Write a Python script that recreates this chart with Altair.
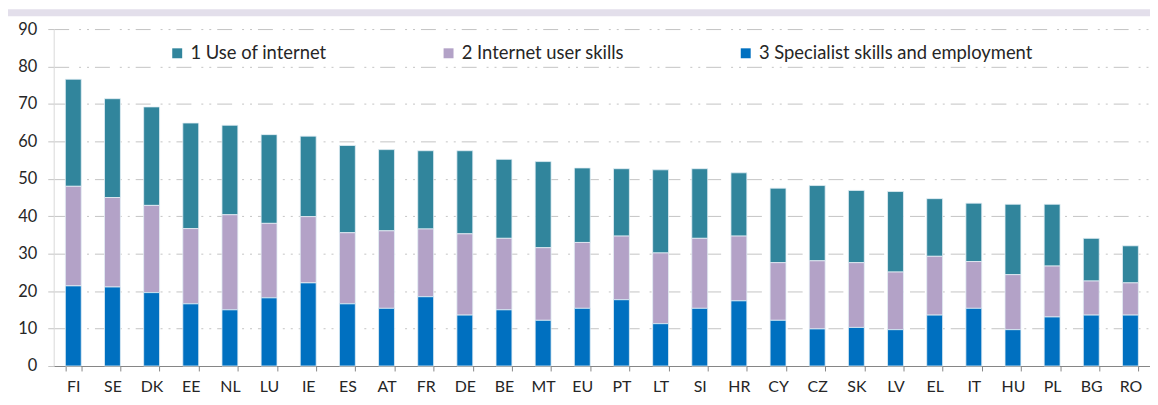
import altair as alt
import pandas as pd

countries = ["FI", "SE", "DK", "EE", "NL", "LU", "IE", "ES", "AT", "FR", "DE", "BE", "MT", "EU",
             "PT", "LT", "SI", "HR", "CY", "CZ", "SK", "LV", "EL", "IT", "HU", "PL", "BG", "RO"]

use_internet = [28.6, 26.4, 26.3, 28.2, 23.9, 23.7, 21.5, 23.3, 21.7, 20.9, 22.2, 21.1, 23.0, 19.9,
                18.0, 22.2, 18.6, 16.9, 19.9, 20.1, 19.3, 21.5, 15.4, 15.6, 18.8, 16.5, 11.4, 9.9]
user_skills = [26.6, 23.9, 23.3, 20.1, 25.4, 19.9, 17.7, 19.0, 20.7, 18.1, 21.7, 19.1, 19.4, 17.6,
               17.0, 18.9, 18.7, 17.3, 15.4, 18.2, 17.3, 15.4, 15.7, 12.5, 14.7, 13.6, 9.1, 8.6]
specialist = [21.4, 21.1, 19.6, 16.6, 15.0, 18.2, 22.2, 16.6, 15.4, 18.5, 13.6, 15.0, 12.2, 15.4,
              17.7, 11.3, 15.4, 17.4, 12.2, 9.9, 10.3, 9.7, 13.6, 15.4, 9.7, 13.1, 13.6, 13.6]

series = ["1 Use of internet", "2 Internet user skills", "3 Specialist skills and employment"]
colors = ["#31859C", "#B3A2C7", "#0070C0"]
y_ticks = [0, 10, 20, 30, 40, 50, 60, 70, 80, 90]

rows = []
for i, c in enumerate(countries):
    for s, vals, o in zip(series, [use_internet, user_skills, specialist], [3, 2, 1]):
        rows.append({"country": c, "series": s, "value": vals[i], "ord": o})
df = pd.DataFrame(rows)

FONT = "Lato"
TXT = "#262626"

bars = alt.Chart(df).mark_bar(stroke="#E3EEF5", strokeWidth=0.8).encode(
    x=alt.X(
        "country:N", sort=countries,
        scale=alt.Scale(paddingInner=0.594, paddingOuter=0.297),
        axis=alt.Axis(
            title=None, labelAngle=0, tickBand="extent", grid=False,
            domainColor="#868686", domainWidth=1.2, tickColor="#868686", tickSize=5,
            labelPadding=8, labelFont=FONT, labelFontSize=16, labelColor=TXT,
        ),
    ),
    y=alt.Y(
        "value:Q", stack="zero",
        scale=alt.Scale(domain=[0, 90], nice=False),
        axis=alt.Axis(
            title=None, values=y_ticks, grid=True, gridColor="#C4C4C4", gridWidth=1,
            gridDash=[15, 10, 2, 6, 2, 6], domainColor="#D9D9D9", tickColor="#C4C4C4",
            tickSize=6, labelPadding=11, labelFont=FONT, labelFontSize=16.5, labelColor=TXT,
        ),
    ),
    color=alt.Color(
        "series:N",
        scale=alt.Scale(domain=series, range=colors),
        legend=alt.Legend(
            title=None, orient="none", legendX=115, legendY=15, direction="horizontal",
            columns=3, columnPadding=113, symbolType="square", symbolSize=100,
            symbolStrokeWidth=0, labelFont=FONT, labelFontSize=18.5, labelColor=TXT,
            labelOffset=4, labelLimit=500,
        ),
    ),
    order=alt.Order("ord:Q", sort="ascending"),
)

band = alt.Chart(pd.DataFrame({"a": [0]})).mark_rect(color="#E3DFEB").encode(
    x=alt.value(-46), x2=alt.value(1110), y=alt.value(-20), y2=alt.value(-13)
)

chart = alt.layer(band, bars).properties(
    width=1103, height=339,
    autosize=alt.AutoSizeParams(type="none"),
    padding={"left": 46, "top": 20, "right": 0, "bottom": 30},
    background="white",
).configure_view(stroke=None)

chart.save("out.html", embed_options={"renderer": "svg", "actions": False})
